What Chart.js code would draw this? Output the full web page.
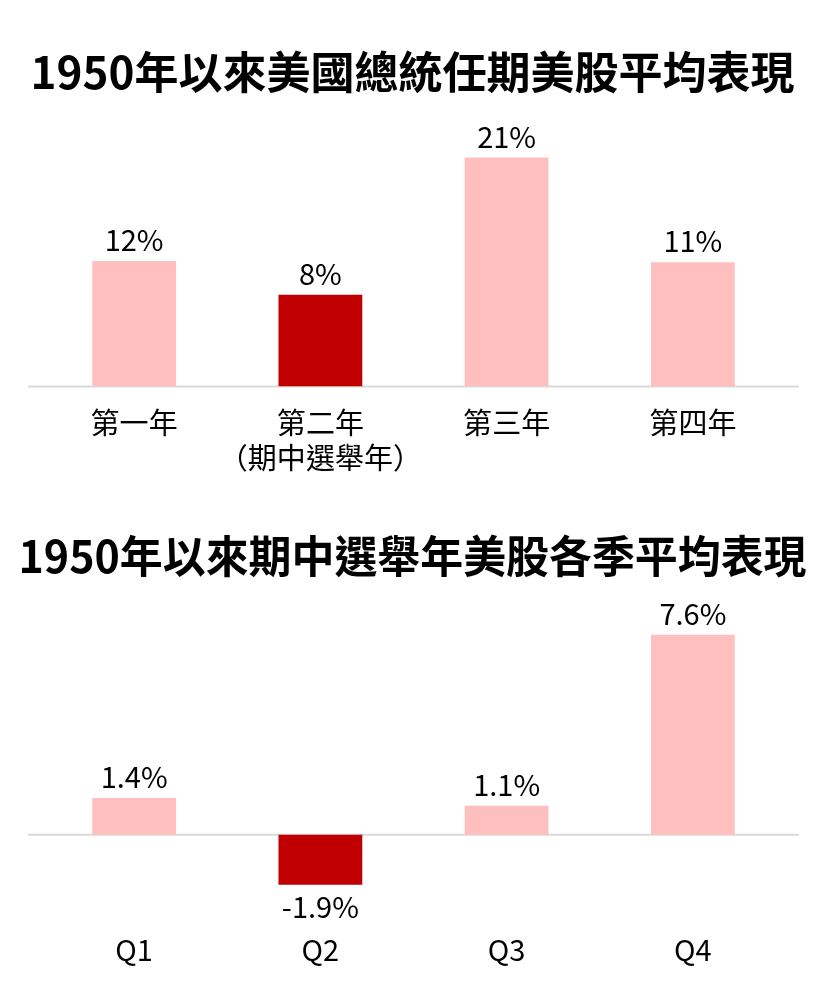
<!DOCTYPE html>
<html>
<head>
<meta charset="utf-8">
<script src="https://cdn.jsdelivr.net/npm/chart.js@4.4.1/dist/chart.umd.min.js"></script>
<style>
  html, body { margin: 0; padding: 0; background: #fff; }
  .box { position: absolute; left: 0; width: 825px; }
  #b1 { top: 0; height: 494px; }
  #b2 { top: 494px; height: 512px; }
</style>
</head>
<body>
<div class="box" id="b1"><canvas id="c1"></canvas></div>
<div class="box" id="b2"><canvas id="c2"></canvas></div>
<script>
// Chart 1 data
const title1 = '1950年以來美國總統任期美股平均表現';
const categories1 = ['第一年', ['第二年', '（期中選舉年）'], '第三年', '第四年'];
const values1 = [11.5, 8.4, 21.0, 11.4];
const valueLabels1 = ['12%', '8%', '21%', '11%'];
const highlight1 = [false, true, false, false];

// Chart 2 data
const title2 = '1950年以來期中選舉年美股各季平均表現';
const categories2 = ['Q1', 'Q2', 'Q3', 'Q4'];
const values2 = [1.4, -1.9, 1.1, 7.6];
const valueLabels2 = ['1.4%', '-1.9%', '1.1%', '7.6%'];
const highlight2 = [false, true, false, false];

const PINK = '#FFBFBF';
const RED = '#C00000';
const FONT = '"Noto Sans CJK TC", "Noto Sans", sans-serif';

const zeroLinePlugin = {
  id: 'zeroLine',
  beforeDatasetsDraw(chart) {
    const { ctx, chartArea, scales } = chart;
    const y = scales.y.getPixelForValue(0);
    ctx.save();
    ctx.strokeStyle = '#D9D9D9';
    ctx.lineWidth = 2;
    ctx.beginPath();
    ctx.moveTo(chartArea.left - 13, y);
    ctx.lineTo(chartArea.right + 13, y);
    ctx.stroke();
    ctx.restore();
  }
};

const valueLabelPlugin = {
  id: 'valueLabels',
  afterDatasetsDraw(chart, args, opts) {
    const { ctx } = chart;
    const meta = chart.getDatasetMeta(0);
    const labels = opts.labels;
    const data = chart.data.datasets[0].data;
    ctx.save();
    ctx.font = '29px ' + FONT;
    ctx.fillStyle = '#000';
    ctx.textAlign = 'center';
    ctx.textBaseline = 'middle';
    meta.data.forEach((bar, i) => {
      const v = data[i];
      const y = v >= 0 ? bar.y - 21 : bar.y + 22;
      ctx.fillText(labels[i], bar.x, y);
    });
    ctx.restore();
  }
};

const titlePlugin = {
  id: 'bigTitle',
  afterDraw(chart, args, opts) {
    const { ctx, width } = chart;
    ctx.save();
    ctx.font = 'bold 44px ' + FONT;
    ctx.fillStyle = '#000';
    ctx.textAlign = 'center';
    ctx.textBaseline = 'middle';
    ctx.fillText(opts.text, width / 2, opts.y, 788);
    ctx.restore();
  }
};

function makeChart(id, cats, vals, labels, hl, title, titleY, yMin, yMax, layoutPad) {
  return new Chart(document.getElementById(id), {
    type: 'bar',
    data: {
      labels: cats,
      datasets: [{
        data: vals,
        backgroundColor: hl.map(h => h ? RED : PINK),
        categoryPercentage: 1,
        barPercentage: 0.45,
        borderWidth: 0
      }]
    },
    options: {
      responsive: true,
      maintainAspectRatio: false,
      animation: false,
      events: [],
      layout: { padding: layoutPad },
      plugins: {
        legend: { display: false },
        tooltip: { enabled: false },
        title: { display: false },
        bigTitle: { text: title, y: titleY },
        valueLabels: { labels: labels }
      },
      scales: {
        x: {
          grid: { display: false, drawTicks: false },
          border: { display: false },
          ticks: {
            color: '#000',
            padding: 19,
            font: { family: FONT, size: 29, lineHeight: 1.2 },
            maxRotation: 0,
            autoSkip: false
          }
        },
        y: {
          display: false,
          min: yMin,
          max: yMax
        }
      }
    },
    plugins: [zeroLinePlugin, valueLabelPlugin, titlePlugin]
  });
}

makeChart('c1', categories1, values1, valueLabels1, highlight1, title1, 72, 0, 25,
  { left: 41, right: 39, top: 114, bottom: 0 });
makeChart('c2', categories2, values2, valueLabels2, highlight2, title2, 62, -3, 9,
  { left: 41, right: 39, top: 104, bottom: 19.5 });
</script>
</body>
</html>
